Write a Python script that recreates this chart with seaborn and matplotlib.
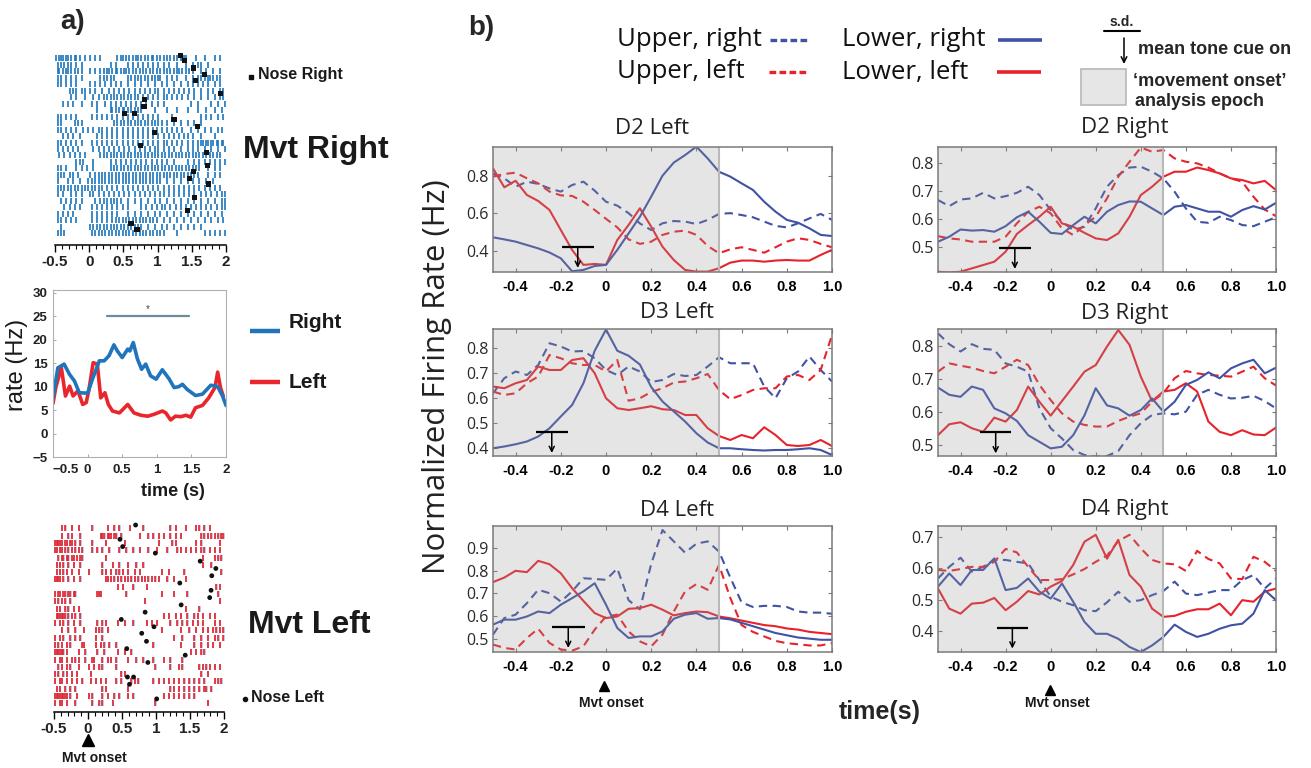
import numpy as np
import matplotlib
matplotlib.use("Agg")
import matplotlib.pyplot as plt
from matplotlib.ticker import FixedLocator, FixedFormatter, MultipleLocator
from matplotlib.patches import Rectangle
import seaborn as sns

sns.set_theme(style="white")
plt.rcParams['font.family'] = ['Liberation Sans', 'DejaVu Sans']
plt.rcParams['axes.unicode_minus'] = True

# ---------------------------------------------------------------- panel a data
BIN_START = -0.5     # s, left edge of the first 25 ms bin
BIN_WIDTH = 0.025

# spike bins per trial, movement to the right
right_trials = [
    [0,2,3,4,6,7,9,11,12,14,17,20,23,26,36,38,39,41,43,45,47,48,50,52,54,56,57,59,61,63,65,67,69,71,73,74,75,76,82,87,93,96],
    [1,3,5,7,9,12,15,32,35,42,45,48,51,54,57,60,63,66,71,76,80,83,85,89],
    [1,2,4,6,7,9,11,13,15,20,23,26,28,30,31,33,35,36,38,40,41,43,45,47,49,51,53,55,57,59,61,63,65,67,69,71,72,74,76,78,80,85,88,92,96],
    [1,3,6,9,12,15,26,28,30,32,34,42,44,46,48,50,52,54,56,58,60,61,65,68,71,76,80,83,85,87,89,90,92,94,96],
    [1,3,6,9,12,20,23,26,29,32,35,38,42,46,50,54,58,62,65,69,73,77,80,83,86,89,93,96],
    [8,10,12,15,17,20,23,27,31,34,37,40,43,46,49,52,55,58,60,63,66,69,72,75,78,81,85,89,92,96,98],
    [9,12,17,22,25,28,30,32,34,36,38,40,42,44,46,48,51,54,57,60,63,65,68,71,74,77,81,85,89,93,96,98],
    [4,7,10,15,21,24,29,32,35,38,41,44,47,50,53,56,60,63,79,83,91,95,99],
    [24,32,33,35,37,39,40,42,44,46,48,50,58,65,71,77,83,88,93,97],
    [1,3,6,9,12,21,24,27,30,33,36,39,42,45,48,51,54,57,60,68,85,88,91,95,98],
    [1,3,11,13,15,34,36,38,40,42,44,46,48,50,52,54,56,58,60,62,65,69,73,77,81,85],
    [1,3,6,9,12,16,19,22,25,27,30,33,36,39,42,45,48,51,54,57,59,62,65,68,71,74,79,83,87,91,95,97],
    [4,7,10,14,24,27,30,33,36,39,42,45,48,51,54,57,60,63,66,69,72,75,77,80,85,93],
    [1,3,6,9,12,15,21,24,27,30,33,36,39,42,45,48,51,54,57,60,63,65,68,71,74,77,80,83,85,86,88,89,91,92,94,95,97,98],
    [1,4,7,10,13,22,25,28,31,34,37,40,43,46,49,52,55,58,60,63,66,69,73,77,80,83,87,91,95,99],
    [2,5,8,11,14,17,26,28,30,32,34,36,38,40,42,44,46,48,50,52,54,56,58,60,62,64,66,68,70,72,74,76,78,80,82,84,86,88,90,92,94,96],
    [12,14,16,22,32,35,38,41,44,47,50,53,56,59,62,65,69,77,81,84,87,90,93,96,99],
    [1,3,6,12,15,18,22,32,34,36,38,40,42,44,46,48,50,52,54,56,58,60,62,64,66,68,70,72,74,76,78,80,82,84,89,93,96],
    [1,3,5,8,10,13,20,23,25,27,29,31,33,35,37,39,41,43,45,47,49,51,53,55,57,59,61,63,65,67,69,71,73,75,77,79,81,83,89,93,96],
    [1,7,10,14,19,21,23,25,27,29,31,33,35,37,39,41,43,45,47,49,51,53,55,57,59,61,65,69,73,77,80,84,88,92],
    [1,3,5,7,9,11,13,15,17,19,21,23,25,27,30,33,36,39,42,45,48,51,54,57,60,63,66,69,72,75,78,81,84,87,90,93,96],
    [1,4,9,12,15,20,22,25,28,31,34,37,40,43,46,49,52,55,58,61,63,66,69,72,75,78,81,85,88,91,94,97,99],
    [3,6,9,12,15,23,26,28,30,32,34,36,38,42,46,50,54,58,61,65,69,73,77,81,85,89,93,97,99],
    [5,8,11,14,21,24,27,30,33,36,39,42,50,53,56,59,62,64,67,70,73,76,79,82,85,88,91,94,97,99],
    [1,4,7,10,21,24,27,30,33,36,42,46,50,54,58,61,65,69,73,77,81,85,89,93,97],
    [1,3,6,9,12,21,24,27,30,33,35,37,39,41,43,45,47,49,51,53,55,57,59,63,67,71,75,79,83,87,91,95,98],
    [3,20,22,24,26,28,30,32,34,36,38,40,42,44,46,48,50,54,58,62,65,69,73,77,81,85],
    [1,3,5,21,23,25,27,29,31,33,35,37,39,41,43,45,47,49,51,53,55,57,59,61,63,71,87,90,93,96,99],
]
right_nose_time = [1.33, 1.39, 1.52, 1.69, 1.55, 1.92, 0.81, 0.80, 0.52, 0.66, 1.24, 1.58,
                   0.96, 0.75, 1.72, 1.73, 1.52, 1.47, 1.75, 1.54, 1.44, 0.61, 0.70]
right_nose_trial = [-0.4, 0.4, 1.5, 2.5, 3.5, 5.5, 6.4, 7.4, 8.5, 8.5, 9.4, 10.5,
                    11.4, 13.4, 14.5, 16.5, 17.5, 18.5, 19.4, 21.5, 23.5, 25.5, 26.4]

# spike bins per trial, movement to the left
left_trials = [
    [4,6,10,14,22,31,35,38,44,52,68,71,77,83,85,88,91],
    [4,8,10,15,27,28,29,31,32,33,35,36,39,50,55,58,61,64,68,71,74,86,88,90,92,94,96,98,99],
    [0,1,2,3,4,6,7,9,10,12,15,22,30,41,61,69,71,83,86,97],
    [0,1,3,4,6,8,10,12,14,16,22,25,28,32,38,42,46,50,55,60,66,72,74,77,80,83,86,88,91,94,97],
    [2,4,5,7,8,10,11,13,15,16,30,87,94,96,98],
    [1,3,5,8,11,15,28,34,38,43,48,52,87,92],
    [1,3,5,7,10,14,20,28,30,33,36,38,40,43,47,50,63,67,76,98],
    [0,1,2,3,5,8,11,15,30,31,33,35,37,39,41,43,45,47,49,51,53,55,57,59,61,66,70,77],
    [37,40,46,54,95,97],
    [0,2,3,5,6,8,9,11,12,25,26,27,42,63,70,78,96],
    [0,2,4,6,9,53,97],
    [1,3,6,8,11,14,77,85],
    [1,2,3,4,5,6,8,10,12,15,64,67,71,74,78,82,84,87,91,94],
    [0,3,5,8,11,15,25,28,30,37,41,46,54,57,60,68,72,75,78,81,84,87,94,97],
    [4,8,12,17,24,26,28,31,63,74,79,83,87,90,93,95,97,99],
    [0,3,5,9,12,15,24,28,70,75,82,86,90,94,96,99],
    [0,2,4,7,9,16,17,24,27,29,32,36,58,74,82,86,90,93,97],
    [0,1,2,3,4,5,7,14,18,25,29,37,41,45,80,83,86,88],
    [0,3,4,7,10,12,14,18,22,23,28,31,33,36,43,48,52,58,64,68,75],
    [2,4,7,9,14,20,23,26,28,36,59,68,73,75,85,87,89,91,94,97],
    [0,2,5,7,10,13,21,39,41,86,90],
    [0,3,4,7,10,13,16,21,24,27,30,36,39,45,47,49,58,61,64,67,70,73,76,79,82,85,88,94,96,98],
    [1,3,6,9,12,28,30,43,68,70,73,76,79,82,85,88,89,92],
    [0,1,2,3,4,5,6,7,9,13,20,22,28,31,35,38,43,46,64,67,70,73,76,79,82],
    [0,3,4,7,12,22,26,28,34,59,90],
]
left_nose_time = [0.70, 0.47, 0.51, 0.99, 1.65, 1.88, 1.82, 1.35, 1.81, 1.79, 1.37, 0.84,
                  0.49, 0.97, 0.79, 0.86, 0.57, 1.43, 0.88, 0.58, 0.67, 0.61, 1.01]
left_nose_trial = [-0.46, 1.5, 2.5, 3.4, 4.5, 5.5, 6.5, 7.5, 8.5, 9.5, 10.5, 11.5,
                   12.5, 13.5, 14.4, 15.5, 16.5, 17.4, 18.4, 20.4, 20.4, 21.4, 23.4]

# peri-event firing rate of the example unit (Hz)
rate_right_t = [-0.5, -0.43, -0.34, -0.26, -0.19, -0.12, 0.0, 0.07, 0.17, 0.24, 0.31, 0.38,
                0.43, 0.5, 0.58, 0.61, 0.66, 0.72, 0.78, 0.84, 0.91, 0.99, 1.08, 1.18, 1.25,
                1.32, 1.37, 1.44, 1.56, 1.66, 1.78, 1.88, 1.95, 2.0]
rate_right_hz = [7.6, 14, 14.8, 12.6, 11.2, 8.7, 8.6, 11.6, 15.5, 15.5, 16.6, 18.9,
                 17.6, 16.2, 18, 17.6, 19.4, 15.9, 13.7, 14.8, 12.3, 11.6, 13.6, 11.6, 9.8,
                 10, 10.5, 9.4, 8.1, 8.4, 10.3, 10, 8, 6]
rate_left_t = [-0.5, -0.46, -0.38, -0.32, -0.26, -0.21, -0.14, -0.07, -0.02, 0.02, 0.08, 0.14,
               0.19, 0.25, 0.3, 0.36, 0.46, 0.58, 0.67, 0.77, 0.87, 0.96, 1.08, 1.13, 1.2,
               1.27, 1.35, 1.42, 1.49, 1.56, 1.66, 1.75, 1.84, 1.88, 1.92, 1.96]
rate_left_hz = [6.4, 9.8, 14.1, 8, 10.1, 8, 9.1, 6.2, 6.6, 9.4, 15.1, 14.8,
                7.6, 8.7, 6.2, 4.8, 4.4, 6.2, 4.4, 3.9, 3.7, 4.1, 4.8, 4.4, 2.9,
                3.7, 3.6, 3.9, 3.5, 5.5, 6, 7.6, 9.8, 13.1, 9.8, 8]
sig_window = [0.28, 1.47]     # s, significant right/left difference
sig_level = 25.0              # Hz

# ---------------------------------------------------------------- panel b data
t_b = [-0.5, -0.45, -0.4, -0.35, -0.3, -0.25, -0.2, -0.15, -0.1, -0.05, 0.0, 0.05, 0.1, 0.15,
       0.2, 0.25, 0.3, 0.35, 0.4, 0.45, 0.5, 0.55, 0.6, 0.65, 0.7, 0.75, 0.8, 0.85, 0.9, 0.95, 1.0]

d2_left = dict(
    upper_right=[0.812, 0.786, 0.741, 0.768, 0.756, 0.732, 0.715, 0.75, 0.768, 0.72, 0.661, 0.64, 0.60, 0.545,
                 0.51, 0.546, 0.558, 0.555, 0.542, 0.564, 0.596, 0.6, 0.59, 0.578, 0.555, 0.532, 0.524, 0.546,
                 0.572, 0.596, 0.564],
    lower_right=[0.471, 0.46, 0.448, 0.43, 0.412, 0.39, 0.359, 0.29, 0.297, 0.318, 0.324, 0.404, 0.492, 0.581,
                 0.688, 0.80, 0.87, 0.91, 0.955, 0.892, 0.821, 0.795, 0.759, 0.724, 0.661, 0.608, 0.564, 0.549,
                 0.519, 0.484, 0.478],
    upper_left=[0.795, 0.809, 0.816, 0.786, 0.759, 0.715, 0.695, 0.692, 0.661, 0.617, 0.57, 0.524, 0.46, 0.436,
                0.448, 0.484, 0.501, 0.507, 0.484, 0.425, 0.386, 0.407, 0.418, 0.404, 0.389, 0.418, 0.448, 0.466,
                0.457, 0.436, 0.418],
    lower_left=[0.839, 0.738, 0.773, 0.697, 0.665, 0.617, 0.51, 0.404, 0.324, 0.329, 0.324, 0.457, 0.537, 0.626,
                0.528, 0.421, 0.35, 0.297, 0.288, 0.288, 0.306, 0.336, 0.347, 0.347, 0.341, 0.347, 0.35, 0.347,
                0.347, 0.377, 0.404],
)
d2_right = dict(
    upper_right=[0.668, 0.646, 0.67, 0.674, 0.694, 0.674, 0.682, 0.694, 0.716, 0.686, 0.632, 0.59, 0.56, 0.572,
                 0.638, 0.716, 0.758, 0.785, 0.788, 0.77, 0.746, 0.698, 0.638, 0.59, 0.586, 0.608, 0.596, 0.578,
                 0.574, 0.59, 0.606],
    lower_right=[0.518, 0.536, 0.562, 0.558, 0.56, 0.554, 0.574, 0.606, 0.626, 0.59, 0.55, 0.546, 0.578, 0.608,
                 0.584, 0.626, 0.65, 0.663, 0.662, 0.638, 0.614, 0.644, 0.65, 0.638, 0.626, 0.626, 0.608, 0.632,
                 0.646, 0.634, 0.658],
    upper_left=[0.538, 0.53, 0.526, 0.518, 0.518, 0.518, 0.536, 0.584, 0.626, 0.644, 0.62, 0.566, 0.542, 0.578,
                0.608, 0.674, 0.752, 0.806, 0.857, 0.842, 0.848, 0.818, 0.806, 0.80, 0.785, 0.764, 0.746, 0.734,
                0.68, 0.634, 0.61],
    lower_left=[0.41, 0.407, 0.41, 0.422, 0.434, 0.446, 0.482, 0.546, 0.578, 0.608, 0.644, 0.584, 0.572, 0.55,
                0.53, 0.524, 0.548, 0.608, 0.686, 0.716, 0.752, 0.77, 0.77, 0.785, 0.776, 0.764, 0.746, 0.74,
                0.728, 0.737, 0.704],
)
d3_left = dict(
    upper_right=[0.62, 0.68, 0.707, 0.693, 0.733, 0.82, 0.807, 0.787, 0.789, 0.76, 0.713, 0.693, 0.727, 0.707,
                 0.665, 0.673, 0.697, 0.689, 0.693, 0.727, 0.764, 0.74, 0.74, 0.74, 0.647, 0.60, 0.68, 0.707,
                 0.767, 0.713, 0.667],
    lower_right=[0.40, 0.407, 0.416, 0.427, 0.447, 0.48, 0.527, 0.573, 0.66, 0.79, 0.875, 0.79, 0.77, 0.735,
                 0.645, 0.587, 0.547, 0.507, 0.46, 0.423, 0.40, 0.40, 0.396, 0.393, 0.391, 0.393, 0.393, 0.396,
                 0.40, 0.393, 0.373],
    upper_left=[0.627, 0.613, 0.62, 0.66, 0.687, 0.773, 0.76, 0.74, 0.733, 0.733, 0.707, 0.753, 0.59, 0.60,
                0.625, 0.64, 0.663, 0.667, 0.68, 0.697, 0.633, 0.596, 0.613, 0.633, 0.64, 0.64, 0.687, 0.693,
                0.673, 0.713, 0.853],
    lower_left=[0.647, 0.64, 0.66, 0.673, 0.727, 0.713, 0.713, 0.753, 0.76, 0.70, 0.60, 0.56, 0.553, 0.56,
                0.568, 0.556, 0.553, 0.533, 0.533, 0.48, 0.449, 0.433, 0.453, 0.44, 0.484, 0.453, 0.413, 0.409,
                0.413, 0.433, 0.409],
)
d3_right = dict(
    upper_right=[0.838, 0.805, 0.783, 0.805, 0.791, 0.788, 0.747, 0.737, 0.722, 0.611, 0.551, 0.52, 0.485, 0.47,
                 0.465, 0.467, 0.482, 0.53, 0.566, 0.591, 0.596, 0.593, 0.601, 0.652, 0.667, 0.652, 0.641, 0.643,
                 0.649, 0.633, 0.611],
    lower_right=[0.674, 0.652, 0.646, 0.677, 0.667, 0.611, 0.596, 0.573, 0.53, 0.51, 0.49, 0.495, 0.53, 0.59,
                 0.672, 0.62, 0.611, 0.589, 0.606, 0.641, 0.601, 0.631, 0.682, 0.697, 0.72, 0.702, 0.732, 0.747,
                 0.758, 0.717, 0.734],
    upper_left=[0.722, 0.747, 0.74, 0.734, 0.724, 0.717, 0.737, 0.758, 0.742, 0.682, 0.636, 0.596, 0.571, 0.561,
                0.556, 0.556, 0.573, 0.586, 0.596, 0.631, 0.657, 0.702, 0.724, 0.717, 0.712, 0.71, 0.707, 0.722,
                0.737, 0.702, 0.68],
    lower_left=[0.53, 0.563, 0.569, 0.551, 0.54, 0.583, 0.571, 0.606, 0.677, 0.631, 0.589, 0.633, 0.677, 0.722,
                0.742, 0.798, 0.848, 0.803, 0.707, 0.633, 0.662, 0.667, 0.687, 0.662, 0.571, 0.54, 0.53, 0.545,
                0.532, 0.53, 0.553],
)
d4_left = dict(
    upper_right=[0.518, 0.591, 0.606, 0.657, 0.716, 0.701, 0.664, 0.709, 0.767, 0.764, 0.76, 0.81, 0.67, 0.63,
                 0.83, 0.98, 0.93, 0.88, 0.92, 0.93, 0.885, 0.77, 0.66, 0.64, 0.645, 0.645, 0.64, 0.62, 0.615,
                 0.615, 0.61],
    lower_right=[0.562, 0.584, 0.584, 0.598, 0.62, 0.613, 0.65, 0.679, 0.709, 0.745, 0.65, 0.547, 0.503, 0.51,
                 0.51, 0.532, 0.588, 0.606, 0.613, 0.588, 0.591, 0.585, 0.57, 0.555, 0.54, 0.525, 0.515, 0.505,
                 0.50, 0.495, 0.495],
    upper_left=[0.474, 0.459, 0.452, 0.503, 0.544, 0.481, 0.452, 0.447, 0.466, 0.54, 0.598, 0.606, 0.532, 0.488,
                0.466, 0.518, 0.62, 0.709, 0.741, 0.716, 0.826, 0.68, 0.56, 0.53, 0.51, 0.49, 0.48, 0.475, 0.47,
                0.47, 0.48],
    lower_left=[0.75, 0.77, 0.80, 0.794, 0.844, 0.829, 0.789, 0.723, 0.667, 0.613, 0.591, 0.598, 0.632, 0.635,
                0.65, 0.628, 0.603, 0.613, 0.62, 0.617, 0.598, 0.59, 0.58, 0.57, 0.56, 0.555, 0.545, 0.54, 0.53,
                0.525, 0.52],
)
d4_right = dict(
    upper_right=[0.567, 0.604, 0.633, 0.589, 0.604, 0.626, 0.626, 0.62, 0.615, 0.562, 0.509, 0.493, 0.482, 0.466,
                 0.463, 0.491, 0.525, 0.493, 0.498, 0.514, 0.527, 0.557, 0.519, 0.514, 0.522, 0.53, 0.53, 0.562,
                 0.578, 0.535, 0.567],
    lower_right=[0.541, 0.583, 0.546, 0.594, 0.594, 0.631, 0.53, 0.537, 0.567, 0.525, 0.503, 0.551, 0.493, 0.429,
                 0.391, 0.391, 0.375, 0.349, 0.333, 0.354, 0.381, 0.42, 0.397, 0.381, 0.391, 0.407, 0.418, 0.423,
                 0.455, 0.53, 0.498],
    upper_left=[0.594, 0.591, 0.597, 0.604, 0.604, 0.62, 0.661, 0.65, 0.604, 0.562, 0.562, 0.565, 0.58, 0.597,
                0.62, 0.64, 0.686, 0.706, 0.663, 0.626, 0.615, 0.612, 0.591, 0.655, 0.629, 0.615, 0.567, 0.565,
                0.636, 0.62, 0.591],
    lower_left=[0.535, 0.471, 0.455, 0.487, 0.49, 0.505, 0.466, 0.493, 0.527, 0.516, 0.541, 0.559, 0.61, 0.684,
                0.706, 0.63, 0.69, 0.578, 0.541, 0.471, 0.445, 0.448, 0.461, 0.469, 0.469, 0.487, 0.45, 0.498,
                0.493, 0.525, 0.535],
)

panel_names = ['D2 Left', 'D2 Right', 'D3 Left', 'D3 Right', 'D4 Left', 'D4 Right']
panel_curves = [d2_left, d2_right, d3_left, d3_right, d4_left, d4_right]
panel_ylim = [(0.286, 0.953), (0.409, 0.859), (0.369, 0.877), (0.467, 0.851), (0.441, 0.998), (0.333, 0.734)]
panel_yticks = [[0.4, 0.6, 0.8], [0.5, 0.6, 0.7, 0.8], [0.4, 0.5, 0.6, 0.7, 0.8],
                [0.5, 0.6, 0.7, 0.8], [0.5, 0.6, 0.7, 0.8, 0.9], [0.4, 0.5, 0.6, 0.7]]
x_ticks_b = [-0.4, -0.2, 0.0, 0.2, 0.4, 0.6, 0.8, 1.0]
x_tick_labels_b = ['-0.4', '-0.2', '0', '0.2', '0.4', '0.6', '0.8', '1.0']
epoch = (-0.5, 0.5)                       # 'movement onset' analysis epoch (s)
cue_mean = [-0.125, -0.159, -0.24, -0.244, -0.167, -0.17]   # mean tone cue onset (s)
cue_sd = [0.07, 0.072, 0.07, 0.07, 0.072, 0.07]             # s.d. of tone cue onset (s)

# ---------------------------------------------------------------- styling
W, H = 1311, 768
fig = plt.figure(figsize=(W / 100, H / 100), dpi=100)

RASTER_BLUE = '#1b75bc'
RASTER_RED = '#e8202a'
RASTER_SHADOW = '#a9c8e8'
RATE_BLUE = '#1f74bb'
RATE_RED = '#e8262b'
B_BLUE = '#3f52a4'
B_RED = '#e8222b'
BOLD = dict(family=['Liberation Sans', 'DejaVu Sans'], weight='bold')
HUMANIST = ['Open Sans', 'DejaVu Sans']


def px_rect(x0, y0, x1, y1):
    return [x0 / W, 1 - y1 / H, (x1 - x0) / W, (y1 - y0) / H]


def spike_points(trials):
    xs, ys = [], []
    for row, bins in enumerate(trials):
        for b in bins:
            xs.append(BIN_START + BIN_WIDTH * (b + 0.5))
            ys.append(row)
    return np.array(xs), np.array(ys)


def raster_axis(ax):
    for side in ['left', 'right', 'top']:
        ax.spines[side].set_visible(False)
    ax.spines['bottom'].set_color('black')
    ax.spines['bottom'].set_linewidth(1.1)
    ax.set_xlim(-0.5, 2.0)
    ax.set_yticks([])
    ax.xaxis.set_major_locator(FixedLocator([-0.5, 0, 0.5, 1, 1.5, 2]))
    ax.xaxis.set_major_formatter(FixedFormatter(['-0.5', '0', '0.5', '1', '1.5', '2']))
    ax.xaxis.set_minor_locator(MultipleLocator(0.1))
    ax.tick_params(axis='x', which='major', direction='out', length=5, width=1.0, color='black',
                   pad=2, labelsize=11, bottom=True)
    ax.tick_params(axis='x', which='minor', direction='out', length=3, width=0.8, color='black', bottom=True)
    for lab in ax.get_xticklabels():
        lab.set_fontfamily(BOLD['family'])
        lab.set_fontweight('bold')
        lab.set_color('#222222')
    ax.set_xlabel('')
    ax.set_ylabel('')
    ax.set_facecolor('none')


# ---------------------------------------------------------------- raster, Mvt Right
ax_r = fig.add_axes(px_rect(55, 53, 226, 245))
xs, ys = spike_points(right_trials)
sns.scatterplot(x=xs, y=ys, marker='|', s=15, color=RASTER_BLUE, linewidth=1.2, ax=ax_r, legend=False)
sns.scatterplot(x=right_nose_time, y=right_nose_trial, marker='s', s=14, color='#111111',
                edgecolor='none', ax=ax_r, legend=False, zorder=4)
ax_r.set_ylim(28.8, -0.8)
raster_axis(ax_r)

# ---------------------------------------------------------------- rate plot
ax_rate = fig.add_axes(px_rect(53, 290, 226, 457))
sns.lineplot(x=rate_left_t, y=rate_left_hz, color=RATE_RED, linewidth=2.6, ax=ax_rate,
             estimator=None, sort=False)
sns.lineplot(x=rate_right_t, y=rate_right_hz, color=RATE_BLUE, linewidth=2.6, ax=ax_rate,
             estimator=None, sort=False)
ax_rate.plot(sig_window, [sig_level, sig_level], color='#6f8c9c', lw=1.6)
ax_rate.text(np.mean(sig_window), sig_level + 0.4, '*', ha='center', va='bottom', fontsize=7, color='#444444')
ax_rate.set_xlim(-0.5, 2.0)
ax_rate.set_ylim(-5, 30.6)
ax_rate.xaxis.set_major_locator(FixedLocator([-0.5, 0, 0.5, 1, 1.5, 2]))
ax_rate.xaxis.set_major_formatter(FixedFormatter(['\u22120.5', '0', '0.5', '1', '1.5', '2']))
ax_rate.yaxis.set_major_locator(FixedLocator([-5, 0, 5, 10, 15, 20, 25, 30]))
ax_rate.yaxis.set_major_formatter(FixedFormatter(['\u22125', '0', '5', '10', '15', '20', '25', '30']))
ax_rate.tick_params(direction='in', length=2, width=0.6, color='#999999', labelsize=9.5,
                    bottom=True, left=True)
ax_rate.tick_params(axis='x', pad=5)
ax_rate.tick_params(axis='y', pad=4)
for lab in ax_rate.get_xticklabels() + ax_rate.get_yticklabels():
    lab.set_fontfamily(BOLD['family'])
    lab.set_fontweight('bold')
    lab.set_color('#222222')
ax_rate.get_xticklabels()[0].set_horizontalalignment('left')
ax_rate.get_xticklabels()[0].set_x(-0.56)
for sp in ax_rate.spines.values():
    sp.set_color('#b0b0b0')
    sp.set_linewidth(0.8)
ax_rate.set_xlabel('')
ax_rate.set_ylabel('')

# ---------------------------------------------------------------- raster, Mvt Left
ax_l = fig.add_axes(px_rect(54, 520, 224, 712))
xs, ys = spike_points(left_trials)
sns.scatterplot(x=xs + 0.008, y=ys, marker='|', s=20, color=RASTER_SHADOW, linewidth=1.2, ax=ax_l, legend=False)
sns.scatterplot(x=xs, y=ys, marker='|', s=20, color=RASTER_RED, linewidth=1.2, ax=ax_l, legend=False)
sns.scatterplot(x=left_nose_time, y=left_nose_trial, marker='o', s=12, color='#111111',
                edgecolor='none', ax=ax_l, legend=False, zorder=4)
ax_l.set_ylim(25.2, -1.15)
raster_axis(ax_l)

# ---------------------------------------------------------------- panel b
panel_boxes = [(493, 147, 832, 272), (938, 147, 1276, 272),
               (493, 329, 832, 456), (938, 329, 1276, 456),
               (493, 526, 832, 652), (938, 526, 1276, 652)]
cue_bar_level = [0.418, 0.496, 0.466, 0.54, 0.55, 0.41]
cue_arrow_tip = [0.308, 0.42, 0.381, 0.475, 0.459, 0.344]
curve_style = [('upper_right', B_BLUE, True), ('upper_left', B_RED, True),
               ('lower_left', B_RED, False), ('lower_right', B_BLUE, False)]

for i, curves in enumerate(panel_curves):
    ax = fig.add_axes(px_rect(*panel_boxes[i]))
    for key, col, dashed in curve_style:
        sns.lineplot(x=t_b, y=curves[key], color=col, linewidth=1.5, ax=ax,
                     estimator=None, sort=False)
        if dashed:
            ax.lines[-1].set_dashes([4.0, 2.6])
    # translucent epoch patch sits over the traces
    ax.axvspan(epoch[0], epoch[1], color='#9a9a9a', alpha=0.25, lw=0, zorder=3)
    ax.axvline(epoch[1], color='#b9b9b9', lw=1.5, zorder=3)
    # tone-cue marker: mean (arrow) and s.d. (bar)
    m, sd = cue_mean[i], cue_sd[i]
    ax.plot([m - sd, m + sd], [cue_bar_level[i]] * 2, color='black', lw=1.6, zorder=6,
            solid_capstyle='butt')
    ax.annotate('', xy=(m, cue_arrow_tip[i]), xytext=(m, cue_bar_level[i]),
                arrowprops=dict(arrowstyle='->', color='black', lw=1.1, mutation_scale=9,
                                shrinkA=0, shrinkB=0), zorder=6)
    ax.set_xlim(-0.5, 1.0)
    ax.set_ylim(*panel_ylim[i])
    ax.xaxis.set_major_locator(FixedLocator(x_ticks_b))
    ax.xaxis.set_major_formatter(FixedFormatter(x_tick_labels_b))
    ax.yaxis.set_major_locator(FixedLocator(panel_yticks[i]))
    ax.yaxis.set_major_formatter(FixedFormatter(['%.1f' % v for v in panel_yticks[i]]))
    ax.tick_params(direction='in', length=3, width=0.8, color='#777777', top=True, right=True,
                   bottom=True, left=True)
    ax.tick_params(axis='x', pad=6, labelsize=10.5)
    ax.tick_params(axis='y', pad=3, labelsize=11.5)
    for lab in ax.get_xticklabels():
        lab.set_fontweight('bold')
        lab.set_fontfamily(BOLD['family'])
        lab.set_color('black')
    for lab in ax.get_yticklabels():
        lab.set_fontfamily(HUMANIST)
        lab.set_color('#2a2a2a')
    for sp in ax.spines.values():
        sp.set_color('#7a7a7a')
        sp.set_linewidth(1.1)
        sp.set_zorder(7)
    ax.set_xlabel('')
    ax.set_ylabel('')
    ax.set_facecolor('white')

# ---------------------------------------------------------------- annotations (pixel space)
ov = fig.add_axes([0, 0, 1, 1], zorder=20)
ov.set_xlim(0, W)
ov.set_ylim(H, 0)
ov.axis('off')
ov.patch.set_alpha(0)

ov.text(73, 22, 'a)', ha='center', va='center', fontsize=20, fontweight='bold')
ov.text(481, 28, 'b)', ha='center', va='center', fontsize=20, fontweight='bold')

# panel a labels
ov.text(243, 150, 'Mvt Right', ha='left', va='center', fontsize=23, **BOLD, color='#1a1a1a')
ov.plot([251], [77], marker='s', ms=3.2, color='#111111', ls='none')
ov.text(258, 75, 'Nose Right', ha='left', va='center', fontsize=11.5, **BOLD, color='#1a1a1a')
ov.plot([250, 280], [331, 331], color=RATE_BLUE, lw=3.2, solid_capstyle='butt')
ov.text(289, 323, 'Right', ha='left', va='center', fontsize=15, **BOLD, color='#1a1a1a')
ov.plot([250, 280], [382, 382], color=RATE_RED, lw=3.2, solid_capstyle='butt')
ov.text(289, 383, 'Left', ha='left', va='center', fontsize=15, **BOLD, color='#1a1a1a')
ov.text(17, 365, 'rate (Hz)', ha='center', va='center', rotation=90, fontsize=17, color='#1a1a1a')
ov.text(173, 492, 'time (s)', ha='center', va='center', fontsize=13, fontweight='bold', color='#1a1a1a')
ov.text(248, 625, 'Mvt Left', ha='left', va='center', fontsize=23, **BOLD, color='#1a1a1a')
ov.plot([245], [699], marker='o', ms=3.0, color='#111111', ls='none')
ov.text(251, 698, 'Nose Left', ha='left', va='center', fontsize=11.5, **BOLD, color='#1a1a1a')
ov.plot([88], [740], marker='^', ms=8, color='black', ls='none')
ov.text(94, 758, 'Mvt onset', ha='center', va='center', fontsize=10, **BOLD, color='#1a1a1a')

# panel b legend
for txt, tx, ty in [('Upper, right', 617, 40), ('Upper, left', 617, 72),
                    ('Lower, right', 842, 40), ('Lower, left', 842, 72)]:
    ov.text(tx, ty, txt, ha='left', va='center', fontsize=18.5, family=HUMANIST, color='#111111')
l1, = ov.plot([770, 807], [40, 40], color=B_BLUE, lw=2.4)
l1.set_dashes([2.0, 1.0])
l2, = ov.plot([769, 807], [72, 72], color=B_RED, lw=2.4)
l2.set_dashes([2.0, 1.0])
ov.plot([998, 1042], [40, 40], color=B_BLUE, lw=2.6, solid_capstyle='butt')
ov.plot([997, 1041], [72, 72], color=B_RED, lw=2.6, solid_capstyle='butt')

ov.text(1122, 22, 's.d.', ha='center', va='center', fontsize=10, fontweight='bold')
ov.plot([1104, 1140], [31, 31], color='black', lw=1.5)
ov.annotate('', xy=(1124, 64), xytext=(1124, 38),
            arrowprops=dict(arrowstyle='->', color='black', lw=1.1, mutation_scale=10, shrinkA=0, shrinkB=0))
ov.text(1138, 50, 'mean tone cue on', ha='left', va='center', fontsize=13, fontweight='bold')
ov.add_patch(Rectangle((1081, 69), 45, 36, facecolor='#e6e6e6', edgecolor='#b8b8b8', lw=1.2))
ov.text(1133, 82, '\u2018movement onset\u2019', ha='left', va='center', fontsize=13, fontweight='bold')
ov.text(1135, 102, 'analysis epoch', ha='left', va='center', fontsize=13, fontweight='bold')

# panel titles
title_xy = [(652, 128), (1125, 128), (677, 313), (1125, 313), (677, 510), (1125, 510)]
for name, (tx, ty) in zip(panel_names, title_xy):
    ov.text(tx, ty, name, ha='center', va='center', fontsize=16, family=HUMANIST, color='#222222')

ov.text(437, 377, 'Normalized Firing Rate (Hz)', ha='center', va='center', rotation=90,
        fontsize=22.5, family=HUMANIST, color='#222222')
ov.text(880, 712, 'time(s)', ha='center', va='center', fontsize=18, fontweight='bold')
for ax_x, ax_y, lab_x in [(604, 686, 611), (1050, 690, 1057)]:
    ov.plot([ax_x], [ax_y], marker='^', ms=7, color='black', ls='none')
    ov.text(lab_x, 703, 'Mvt onset', ha='center', va='center', fontsize=10, **BOLD, color='#1a1a1a')

fig.savefig('out.png', dpi=100)
